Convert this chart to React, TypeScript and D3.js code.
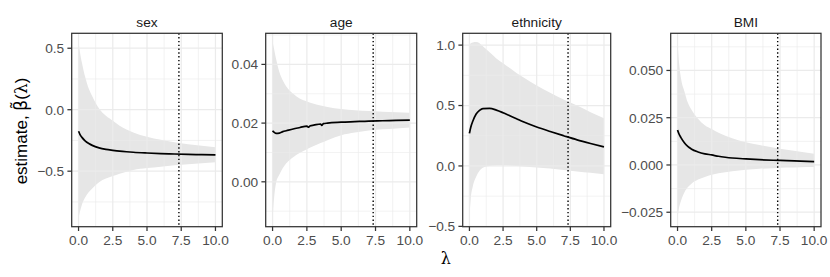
import React from "react";
import * as d3 from "d3";

// ---------- data ----------
const panelTitles = ["sex", "age", "ethnicity", "BMI"];
const lambdaGrid = [0, 0.1, 0.25, 0.5, 0.75, 1, 1.5, 2, 2.5, 3, 3.5, 4, 5, 6, 7, 8, 9, 10];

const sexEstimate = [-0.175, -0.2, -0.225, -0.255, -0.275, -0.29, -0.31, -0.322, -0.33, -0.337, -0.342, -0.346, -0.352, -0.357, -0.36, -0.363, -0.366, -0.368];
const sexUpper = [0.55, 0.47, 0.38, 0.26, 0.17, 0.11, 0.01, -0.05, -0.09, -0.13, -0.16, -0.185, -0.22, -0.245, -0.265, -0.28, -0.293, -0.305];
const sexLower = [-0.88, -0.83, -0.77, -0.71, -0.67, -0.64, -0.59, -0.56, -0.54, -0.52, -0.505, -0.49, -0.475, -0.463, -0.452, -0.443, -0.435, -0.428];

const ageLambda = [0, 0.1, 0.25, 0.5, 0.75, 1, 1.5, 2, 2.5, 2.62, 2.75, 3, 3.5, 3.58, 3.7, 4, 5, 6, 7, 8, 9, 10];
const ageEstimate = [0.0174, 0.0169, 0.0165, 0.0166, 0.0171, 0.0174, 0.018, 0.0185, 0.019, 0.0186, 0.0191, 0.0193, 0.0197, 0.0192, 0.0198, 0.02, 0.0203, 0.0205, 0.0207, 0.0208, 0.0209, 0.021];
const ageUpper = [0.0476, 0.0455, 0.042, 0.0373, 0.0345, 0.0325, 0.03, 0.0283, 0.0274, 0.0266, 0.026, 0.0255, 0.0248, 0.0244, 0.0241, 0.0239, 0.0237, 0.0235];
const ageLower = [-0.0123, -0.006, -0.0005, 0.0025, 0.0047, 0.0063, 0.0084, 0.0099, 0.0111, 0.0122, 0.0132, 0.0142, 0.0159, 0.0168, 0.0175, 0.0179, 0.0182, 0.0185];

const ethnicityEstimate = [0.27, 0.32, 0.37, 0.43, 0.46, 0.475, 0.476, 0.462, 0.44, 0.415, 0.39, 0.365, 0.322, 0.285, 0.25, 0.216, 0.186, 0.158];
const ethnicityUpper = [1.0, 1.015, 1.022, 1.025, 1.015, 0.99, 0.94, 0.89, 0.85, 0.81, 0.77, 0.735, 0.665, 0.605, 0.55, 0.5, 0.445, 0.395];
const ethnicityLower = [-0.43, -0.27, -0.17, -0.09, -0.04, -0.015, 0.0, 0.005, 0.005, 0.003, 0.0, -0.004, -0.012, -0.022, -0.033, -0.045, -0.057, -0.069];

const bmiEstimate = [0.0185, 0.0165, 0.0145, 0.0118, 0.0098, 0.0085, 0.0069, 0.0059, 0.0053, 0.0046, 0.0041, 0.0037, 0.0032, 0.0028, 0.0025, 0.0023, 0.002, 0.0018];
const bmiUpper = [0.065, 0.055, 0.046, 0.039, 0.033, 0.0295, 0.0245, 0.021, 0.019, 0.017, 0.0155, 0.0142, 0.012, 0.0105, 0.0092, 0.008, 0.007, 0.006];
const bmiLower = [-0.028, -0.023, -0.019, -0.0145, -0.0118, -0.01, -0.0077, -0.0063, -0.0052, -0.0044, -0.0038, -0.0033, -0.0025, -0.002, -0.0017, -0.0014, -0.0012, -0.0011];

const xTicks = [0, 2.5, 5, 7.5, 10];
const sexTicks = [-0.5, 0, 0.5];
const ageTicks = [0, 0.02, 0.04];
const ethnicityTicks = [-0.5, 0, 0.5, 1];
const bmiTicks = [-0.025, 0, 0.025, 0.05];
const selectedLambda = 7.33;

// ---------- layout ----------
const W = 830;
const H = 277;
const TOP = 33.3;
const BOTTOM = 226.7;
const FONT = "'Liberation Sans', Arial, Helvetica, sans-serif";
const TICK_FONT = 13.7;
const TICK_LEN = 4.3;

const panels = [
  { title: panelTitles[0], left: 71.7, right: 222.3, lam: lambdaGrid, est: sexEstimate, estLam: lambdaGrid, lo: sexLower, hi: sexUpper, ticks: sexTicks, fmt: ".1f" },
  { title: panelTitles[1], left: 265.7, right: 416.7, lam: lambdaGrid, est: ageEstimate, estLam: ageLambda, lo: ageLower, hi: ageUpper, ticks: ageTicks, fmt: ".2f" },
  { title: panelTitles[2], left: 462.7, right: 610.7, lam: lambdaGrid, est: ethnicityEstimate, estLam: lambdaGrid, lo: ethnicityLower, hi: ethnicityUpper, ticks: ethnicityTicks, fmt: ".1f" },
  { title: panelTitles[3], left: 670.7, right: 821, lam: lambdaGrid, est: bmiEstimate, estLam: lambdaGrid, lo: bmiLower, hi: bmiUpper, ticks: bmiTicks, fmt: ".3f" },
];

function expand(min: number, max: number): [number, number] {
  const r = max - min;
  return [min - 0.05 * r, max + 0.05 * r];
}

function minorBreaks(major: number[], domain: [number, number]) {
  const step = major[1] - major[0];
  const b = [major[0] - step, ...major, major[major.length - 1] + step];
  const out: number[] = [];
  for (let i = 0; i < b.length - 1; i++) {
    const m = (b[i] + b[i + 1]) / 2;
    if (m >= domain[0] && m <= domain[1]) out.push(m);
  }
  return out;
}

function Panel({ p }: { p: typeof panels[number] }) {
  const x = d3.scaleLinear().domain(expand(0, 10)).range([p.left, p.right]);
  const yMin = d3.min(p.lo) as number;
  const yMax = d3.max(p.hi) as number;
  const yDom = expand(yMin, yMax);
  const y = d3.scaleLinear().domain(yDom).range([BOTTOM, TOP]);
  const fmt = d3.format(p.fmt);

  const band = p.lam.map((l, i) => ({ l, lo: p.lo[i], hi: p.hi[i] }));
  const line = p.estLam.map((l, i) => ({ l, v: p.est[i] }));
  const areaGen = d3
    .area<{ l: number; lo: number; hi: number }>()
    .x((d) => x(d.l))
    .y0((d) => y(d.lo))
    .y1((d) => y(d.hi))
    .curve(d3.curveMonotoneX);
  const lineGen = d3
    .line<{ l: number; v: number }>()
    .x((d) => x(d.l))
    .y((d) => y(d.v))
    .curve(d3.curveMonotoneX);

  const xMinor = minorBreaks(xTicks, x.domain() as [number, number]);
  const yMinor = minorBreaks(p.ticks, yDom);
  const cx = (p.left + p.right) / 2;

  return (
    <g>
      <rect x={p.left} y={TOP} width={p.right - p.left} height={BOTTOM - TOP} fill="#ffffff" />
      <path d={areaGen(band) || ""} fill="#e6e6e6" />
      {yMinor.map((v) => (
        <line key={"ym" + v} x1={p.left} x2={p.right} y1={y(v)} y2={y(v)} stroke="#ebebeb" strokeWidth={0.65} />
      ))}
      {xMinor.map((v) => (
        <line key={"xm" + v} x1={x(v)} x2={x(v)} y1={TOP} y2={BOTTOM} stroke="#ebebeb" strokeWidth={0.65} />
      ))}
      {p.ticks.map((v) => (
        <line key={"yM" + v} x1={p.left} x2={p.right} y1={y(v)} y2={y(v)} stroke="#ebebeb" strokeWidth={1.25} />
      ))}
      {xTicks.map((v) => (
        <line key={"xM" + v} x1={x(v)} x2={x(v)} y1={TOP} y2={BOTTOM} stroke="#ebebeb" strokeWidth={1.25} />
      ))}
      <path d={lineGen(line) || ""} fill="none" stroke="#000000" strokeWidth={1.7} strokeLinejoin="round" />
      <line x1={x(selectedLambda)} x2={x(selectedLambda)} y1={TOP} y2={BOTTOM} stroke="#000000" strokeWidth={1.4} strokeDasharray="1.4 2.4" />
      <rect x={p.left} y={TOP} width={p.right - p.left} height={BOTTOM - TOP} fill="none" stroke="#333333" strokeWidth={1.25} />
      {xTicks.map((v) => (
        <g key={"xt" + v}>
          <line x1={x(v)} x2={x(v)} y1={BOTTOM} y2={BOTTOM + TICK_LEN} stroke="#333333" strokeWidth={1.25} />
          <text x={x(v)} y={BOTTOM + 18.5} textAnchor="middle" fontSize={TICK_FONT} fill="#4d4d4d" fontFamily={FONT}>
            {d3.format(".1f")(v)}
          </text>
        </g>
      ))}
      {p.ticks.map((v) => (
        <g key={"yt" + v}>
          <line x1={p.left - TICK_LEN} x2={p.left} y1={y(v)} y2={y(v)} stroke="#333333" strokeWidth={1.25} />
          <text x={p.left - 7.5} y={y(v) + 4.9} textAnchor="end" fontSize={TICK_FONT} fill="#4d4d4d" fontFamily={FONT}>
            {fmt(v)}
          </text>
        </g>
      ))}
      <text x={cx} y={26.8} textAnchor="middle" fontSize={TICK_FONT} fill="#1a1a1a" fontFamily={FONT}>
        {p.title}
      </text>
    </g>
  );
}

export default function App() {
  return (
    <svg
      width={W}
      height={H}
      viewBox={`0 0 ${W} ${H}`}
      style={{ position: "absolute", left: 0, top: 0, background: "#ffffff" }}
    >
      <rect x={0} y={0} width={W} height={H} fill="#ffffff" />
      {panels.map((p) => (
        <Panel key={p.title} p={p} />
      ))}
      <text
        transform={`translate(26.7, 131) rotate(-90)`}
        textAnchor="middle"
        fontSize={17}
        fill="#000000"
        fontFamily={FONT}
      >
        estimate,{" "}
        <tspan fontFamily="'DejaVu Sans', sans-serif">β̃</tspan>
        (
        <tspan fontFamily="'DejaVu Serif', serif">λ</tspan>
        )
      </text>
      <text x={445.7} y={264} textAnchor="middle" fontSize={16} fill="#000000" fontFamily="'DejaVu Serif', 'Liberation Serif', serif">
        λ
      </text>
    </svg>
  );
}
